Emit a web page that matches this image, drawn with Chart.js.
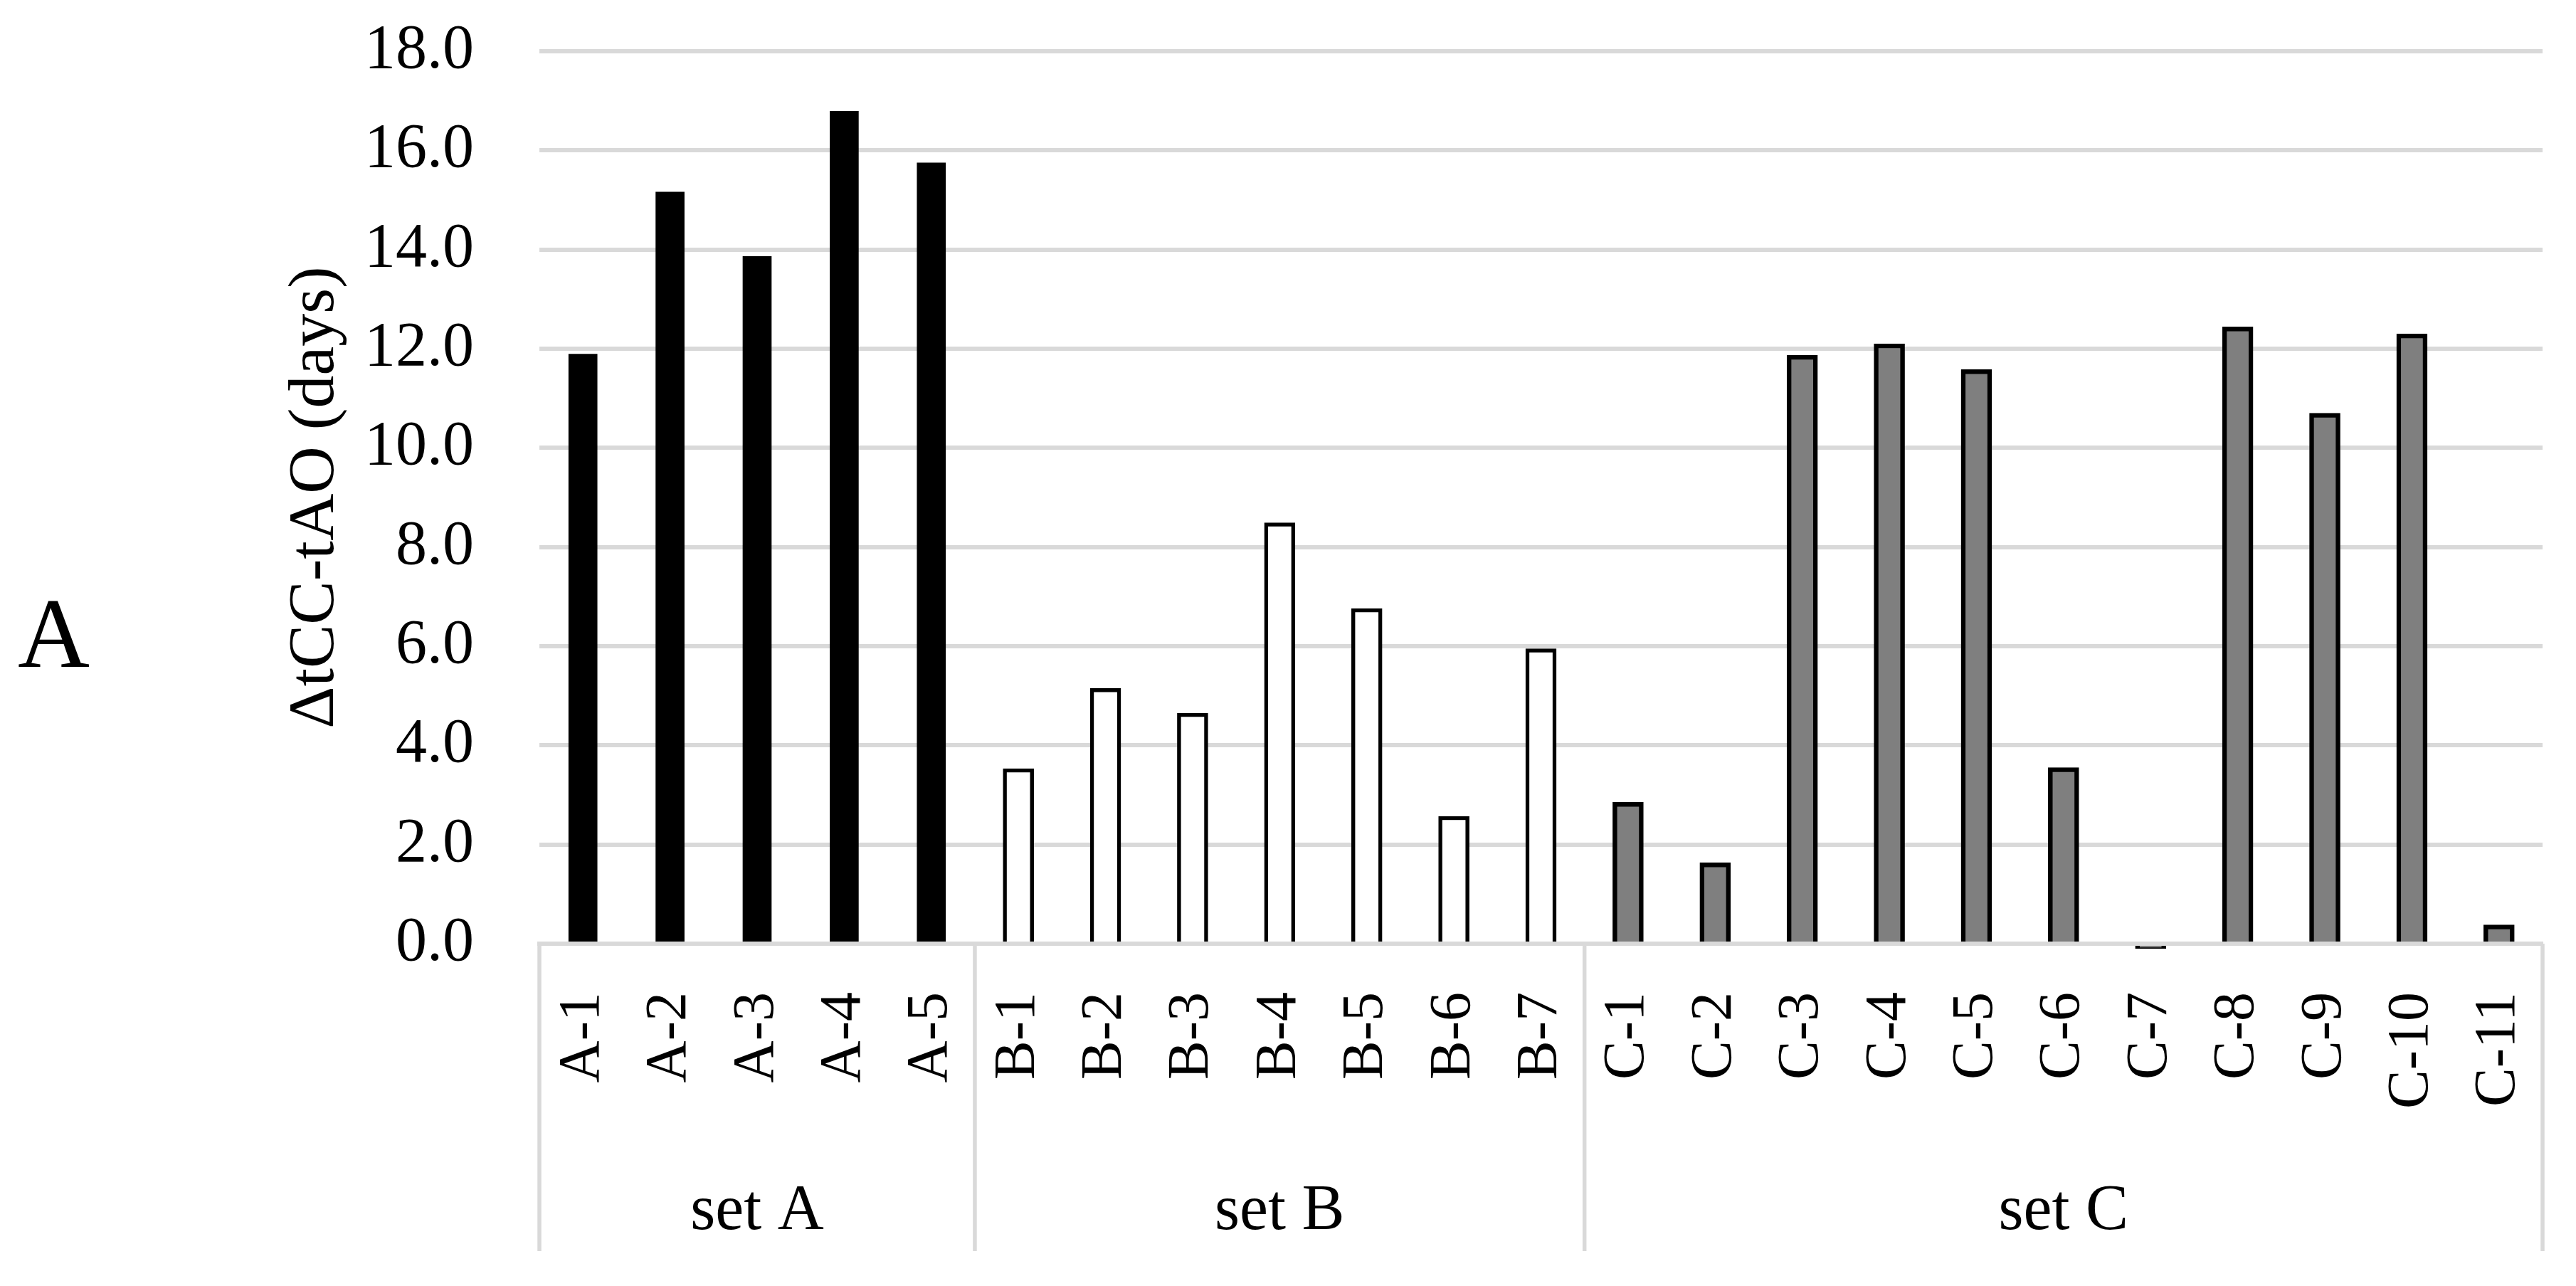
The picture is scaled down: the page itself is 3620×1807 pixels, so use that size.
<!DOCTYPE html>
<html>
<head>
<meta charset="utf-8">
<script src="https://cdn.jsdelivr.net/npm/chart.js@4.4.1/dist/chart.umd.min.js"></script>
<style>
  html, body { margin: 0; padding: 0; background: #fff; }
  canvas { display: block; }
</style>
</head>
<body>
<canvas id="chart" width="3620" height="1807"></canvas>
<script>
// values (days)
const setALabels = ['A-1', 'A-2', 'A-3', 'A-4', 'A-5'];
const setBLabels = ['B-1', 'B-2', 'B-3', 'B-4', 'B-5', 'B-6', 'B-7'];
const setCLabels = ['C-1', 'C-2', 'C-3', 'C-4', 'C-5', 'C-6', 'C-7', 'C-8', 'C-9', 'C-10', 'C-11'];
const setAValues = [11.89, 15.16, 13.86, 16.79, 15.75];
const setBValues = [3.53, 5.15, 4.65, 8.49, 6.76, 2.57, 5.95];
const setCValues = [2.85, 1.63, 11.87, 12.10, 11.58, 3.55, -0.1, 12.44, 10.70, 12.30, 0.38];
const groupNames = ['set A', 'set B', 'set C'];
const yMin = 0;
const yMax = 18;
const yStep = 2;

const serif = "'Liberation Serif', 'Times New Roman', serif";
Chart.defaults.font.family = serif;
Chart.defaults.color = '#000';

const groups = [
  {name: groupNames[0], labels: setALabels, values: setAValues},
  {name: groupNames[1], labels: setBLabels, values: setBValues},
  {name: groupNames[2], labels: setCLabels, values: setCValues}
];
const allLabels = [].concat(setALabels, setBLabels, setCLabels);

// pad each set with nulls so it sits on its own categories
function padded(idx) {
  let out = [];
  groups.forEach((g, i) => {
    g.values.forEach(v => out.push(i === idx ? v : null));
  });
  return out;
}

const grey = '#d9d9d9';

const groupPlugin = {
  id: 'groups',
  afterDraw(chart) {
    const ctx = chart.ctx;
    const x = chart.scales.x;
    const area = chart.chartArea;
    const n = allLabels.length;
    ctx.save();
    // separators under the axis
    let edges = [0];
    let count = 0;
    groups.forEach(g => { count += g.labels.length; edges.push(count); });
    ctx.strokeStyle = grey;
    ctx.lineWidth = 5.5;
    edges.forEach(i => {
      let px;
      if (i === 0) px = x.left;
      else if (i === n) px = x.right;
      else px = (x.getPixelForValue(i - 1) + x.getPixelForValue(i)) / 2;
      ctx.beginPath();
      ctx.moveTo(px, area.bottom);
      ctx.lineTo(px, 1758);
      ctx.stroke();
    });
    // group names
    ctx.fillStyle = '#000';
    ctx.font = '90px ' + serif;
    ctx.textAlign = 'center';
    ctx.textBaseline = 'alphabetic';
    let first = 0;
    groups.forEach(g => {
      const last = first + g.labels.length - 1;
      const cx = (x.getPixelForValue(first) + x.getPixelForValue(last)) / 2;
      ctx.fillText(g.name, cx, 1727);
      first = last + 1;
    });
    // panel letter
    ctx.font = '140px ' + serif;
    ctx.textAlign = 'left';
    ctx.fillText('A', 25, 937);
    ctx.restore();
  }
};

new Chart(document.getElementById('chart'), {
  type: 'bar',
  data: {
    labels: allLabels,
    datasets: [
      {
        label: groupNames[0],
        data: padded(0),
        backgroundColor: '#000000',
        borderWidth: 0,
        barThickness: 40
      },
      {
        label: groupNames[1],
        data: padded(1),
        backgroundColor: '#ffffff',
        borderColor: '#000000',
        borderWidth: 5.5,
        barThickness: 43
      },
      {
        label: groupNames[2],
        data: padded(2),
        backgroundColor: '#7f7f7f',
        borderColor: '#000000',
        borderWidth: 6.5,
        barThickness: 43
      }
    ]
  },
  options: {
    responsive: false,
    animation: false,
    devicePixelRatio: 1,
    layout: {
      padding: {top: 72, right: 47, bottom: 0, left: 0}
    },
    datasets: {
      bar: {grouped: false, skipNull: true, clip: false}
    },
    scales: {
      x: {
        grid: {display: false, drawTicks: false},
        border: {display: true, color: grey, width: 6, z: 1},
        ticks: {
          autoSkip: false,
          minRotation: 90,
          maxRotation: 90,
          padding: 68,
          font: {size: 82},
          color: '#000'
        },
        afterFit: s => {
          s.height = 481;
          s.paddingLeft = 0;
          s.paddingRight = 0;
        }
      },
      y: {
        min: yMin,
        max: yMax,
        grid: {color: grey, lineWidth: 6, drawTicks: false},
        border: {display: false},
        ticks: {
          stepSize: yStep,
          padding: 92,
          font: {size: 88},
          color: '#000',
          callback: v => v.toFixed(1)
        },
        title: {
          display: true,
          text: 'ΔtCC-tAO (days)',
          font: {size: 92},
          color: '#000',
          padding: {top: 389, bottom: 0}
        },
        afterFit: s => {
          s.width = 758;
          // label padding would otherwise push the plot top down
          s.paddingTop = 0;
          s.paddingBottom = 0;
        }
      }
    },
    plugins: {
      legend: {display: false},
      tooltip: {enabled: false}
    }
  },
  plugins: [groupPlugin]
});
</script>
</body>
</html>
